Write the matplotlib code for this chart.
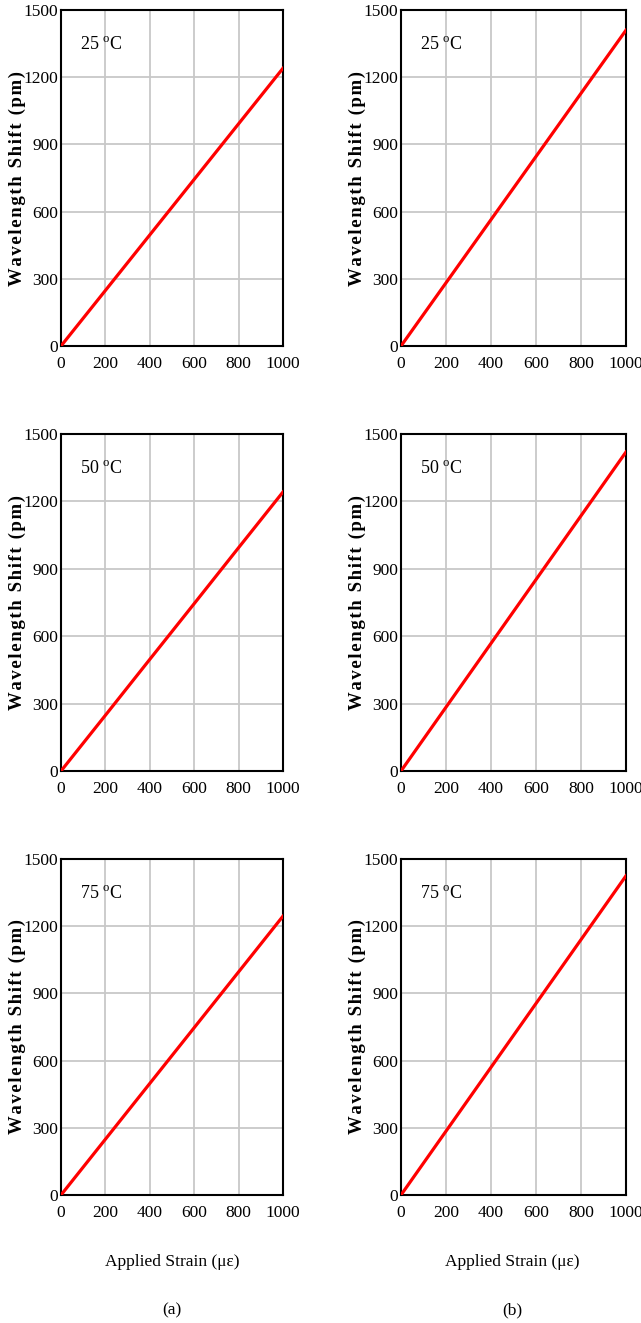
import matplotlib
matplotlib.use("Agg")
import matplotlib.pyplot as plt

# Data
strain = [0, 200, 400, 600, 800, 1000]
shift_a_25 = [0, 248, 496, 744, 992, 1240]
shift_a_50 = [0, 248, 497, 745, 994, 1242]
shift_a_75 = [0, 249, 498, 747, 996, 1245]
shift_b_25 = [0, 282, 564, 846, 1128, 1410]
shift_b_50 = [0, 284, 568, 852, 1136, 1420]
shift_b_75 = [0, 285, 570, 855, 1140, 1425]
temps = ["25", "50", "75"]
x_ticks = [0, 200, 400, 600, 800, 1000]
y_ticks = [0, 300, 600, 900, 1200, 1500]
ylabel = "Wavelength Shift (pm)"
xlabel = "Applied Strain (\u03bc\u03b5)"

plt.rcParams['font.family'] = ['Liberation Serif', 'DejaVu Serif']
plt.rcParams['mathtext.fontset'] = 'custom'
plt.rcParams['mathtext.rm'] = 'Liberation Serif'

W, H = 641, 1323
fig = plt.figure(figsize=(W / 100, H / 100), dpi=100)

cols_px = [(61, 283), (401, 626)]
rows_px = [(10, 346), (434, 771), (859, 1195)]
series = [[shift_a_25, shift_a_50, shift_a_75], [shift_b_25, shift_b_50, shift_b_75]]

spaced = "\u200a".join(ylabel)

for ci, (x0, x1) in enumerate(cols_px):
    for ri, (y0, y1) in enumerate(rows_px):
        ax = fig.add_axes([x0 / W, 1 - y1 / H, (x1 - x0) / W, (y1 - y0) / H])
        ax.plot(strain, series[ci][ri], color='#ff0000', lw=2.3, zorder=3)
        ax.set_xlim(0, 1000)
        ax.set_ylim(0, 1500)
        ax.set_xticks(x_ticks)
        ax.set_yticks(y_ticks)
        ax.grid(True, color='#c8c8c8', lw=1.3)
        ax.set_axisbelow(True)
        ax.tick_params(length=0, labelsize=12.5)
        ax.tick_params(axis='x', pad=7)
        ax.tick_params(axis='y', pad=2)
        for s in ax.spines.values():
            s.set_color('black')
            s.set_linewidth(1.5)
        ax.text(0.085, 0.895, temps[ri] + r" $^{\rm o}$C", transform=ax.transAxes,
                fontsize=13, ha='left', va='center')
        ax.text(-44 / (x1 - x0), 0.5, spaced, transform=ax.transAxes,
                rotation=90, fontsize=13.5, fontweight='bold', ha='center', va='center')

for xc, lab in [(172, "(a)"), (512, "(b)")]:
    fig.text(xc / W, 1 - 1262 / H, xlabel, ha='center', va='center', fontsize=12.5)
    fig.text(xc / W, 1 - 1310 / H, lab, ha='center', va='center', fontsize=12.5)

fig.savefig("out.png", dpi=100, facecolor='white')
